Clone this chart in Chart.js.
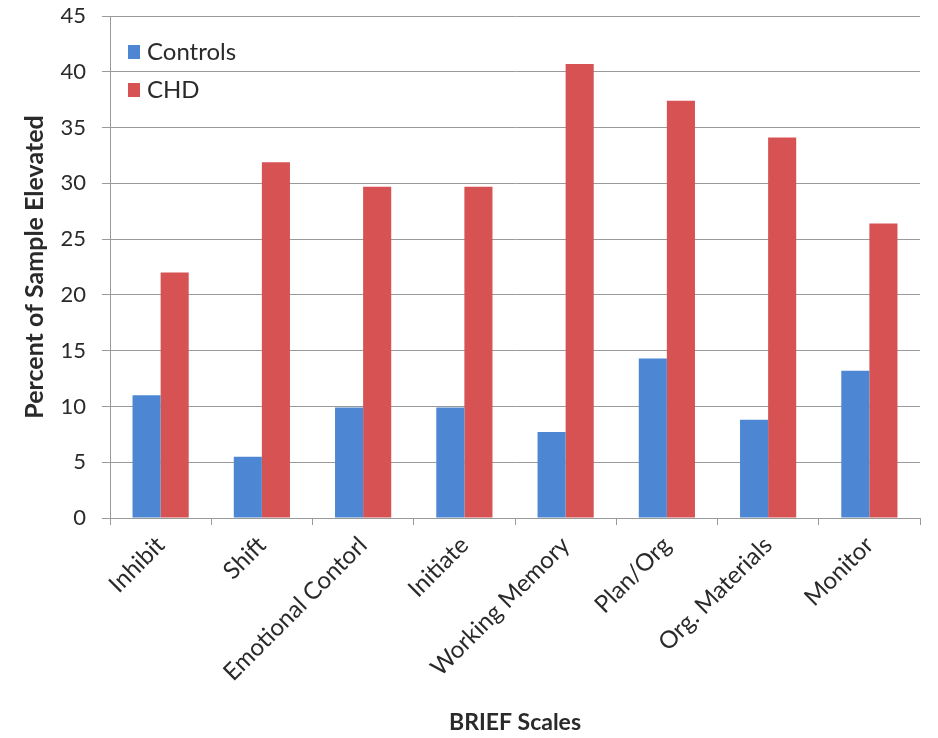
<!DOCTYPE html>
<html>
<head>
<meta charset="utf-8">
<script src="https://cdn.jsdelivr.net/npm/chart.js@4/dist/chart.umd.min.js"></script>
<style>
  html, body { margin: 0; padding: 0; background: #fff; }
  #wrap { width: 938px; height: 738px; }
</style>
</head>
<body>
<div id="wrap"><canvas id="chartBrief"></canvas></div>
<script>
// BRIEF scales, percent of sample elevated
const scales = ['Inhibit', 'Shift', 'Emotional Contorl', 'Initiate', 'Working Memory', 'Plan/Org', 'Org. Materials', 'Monitor'];
const controls = [11.0, 5.5, 9.9, 9.9, 7.7, 14.3, 8.8, 13.2];
const chd = [22.0, 31.9, 29.7, 29.7, 40.7, 37.4, 34.1, 26.4];
const yTicks = [0, 5, 10, 15, 20, 25, 30, 35, 40, 45];

const FONT = 'Lato, "Open Sans", sans-serif';
const gridColor = '#9a9a9a';
const textColor = '#2a2a2a';

// legend drawn inside the plot, top-left
const innerLegend = {
    id: 'innerLegend',
    afterDraw(chart) {
        const ctx = chart.ctx;
        const area = chart.chartArea;
        ctx.save();
        ctx.font = '24px ' + FONT;
        ctx.textBaseline = 'middle';
        chart.data.datasets.forEach((ds, i) => {
            const y = area.top + 36 + i * 38;
            ctx.fillStyle = ds.backgroundColor;
            ctx.fillRect(area.left + 18, y - 7, 12, 14);
            ctx.fillStyle = textColor;
            ctx.fillText(ds.label, area.left + 37, y);
        });
        ctx.restore();
    }
};

new Chart(document.getElementById('chartBrief'), {
    type: 'bar',
    data: {
        labels: scales,
        datasets: [
            { label: 'Controls', data: controls, backgroundColor: '#4d87d3' },
            { label: 'CHD', data: chd, backgroundColor: '#d65253' }
        ]
    },
    options: {
        responsive: true,
        maintainAspectRatio: false,
        animation: false,
        layout: { padding: { top: 0, right: 18, left: 0, bottom: 0 } },
        datasets: { bar: { categoryPercentage: 0.555, barPercentage: 1.0 } },
        plugins: { legend: { display: false }, tooltip: { enabled: false } },
        scales: {
            x: {
                afterFit(scale) { scale.height = 220; },
                grid: { drawOnChartArea: false, drawTicks: true, tickLength: 7, color: gridColor, offset: true },
                border: { color: gridColor },
                ticks: {
                    color: textColor,
                    font: { family: FONT, size: 24 },
                    maxRotation: 45, minRotation: 45,
                    padding: 6
                },
                title: {
                    display: true,
                    text: 'BRIEF Scales',
                    color: textColor,
                    font: { family: FONT, size: 23, weight: 'bold' },
                    padding: { top: 2, bottom: 2 }
                }
            },
            y: {
                min: 0, max: 45,
                afterFit(scale) {
                    scale.width = 110;
                    // keep the plot top fixed regardless of tick padding
                    scale.paddingTop = 16;
                    scale.paddingBottom = 0;
                },
                afterBuildTicks(scale) { scale.ticks = yTicks.map(v => ({ value: v })); },
                grid: { color: gridColor, tickLength: 8 },
                border: { color: gridColor },
                ticks: {
                    color: textColor,
                    font: { family: FONT, size: 22 },
                    padding: 16
                },
                title: {
                    display: true,
                    text: 'Percent of Sample Elevated',
                    color: textColor,
                    font: { family: FONT, size: 25, weight: 'bold' },
                    padding: { top: 20, bottom: 20 }
                }
            }
        }
    },
    plugins: [innerLegend]
});
</script>
</body>
</html>
